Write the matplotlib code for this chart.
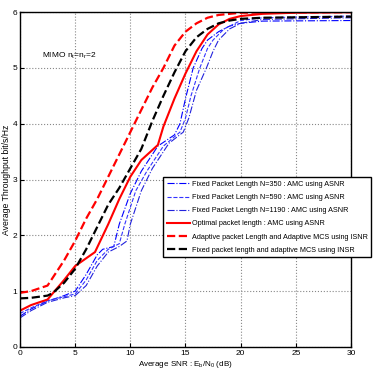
import numpy as np
import matplotlib
matplotlib.use('Agg')
import matplotlib.pyplot as plt

plt.rcParams['font.family'] = ['Liberation Sans', 'DejaVu Sans']
plt.rcParams['mathtext.fontset'] = 'custom'
plt.rcParams['mathtext.rm'] = 'Liberation Sans'
plt.rcParams['mathtext.it'] = 'Liberation Sans'

# 数据
x_opt = [0, 1, 2.5, 4, 5, 6.8, 8, 9, 10, 11, 12.5, 13, 14, 15, 16, 17, 18, 19, 20, 22, 25, 30]
y_opt = [0.65, 0.75, 0.85, 1.2, 1.45, 1.7, 2.2, 2.65, 3.05, 3.35, 3.62, 3.95, 4.45, 4.9, 5.3, 5.6, 5.78, 5.88, 5.93, 5.97, 5.99, 6.0]

x_isnr = [0, 1, 2.5, 4, 5, 6, 7, 8, 9, 10, 11, 12, 13, 14, 15, 16, 17, 18, 20, 30]
y_isnr = [0.97, 1.0, 1.1, 1.55, 1.9, 2.3, 2.65, 3.05, 3.45, 3.85, 4.25, 4.65, 5.0, 5.4, 5.65, 5.8, 5.9, 5.95, 5.99, 6.0]

x_insr = [0, 1, 2.5, 3, 4, 5, 6, 7, 8, 9, 10, 11, 12, 13, 14, 15, 16, 17, 18, 19, 20, 22, 30]
y_insr = [0.87, 0.88, 0.92, 0.97, 1.15, 1.4, 1.75, 2.15, 2.55, 2.85, 3.2, 3.55, 4.05, 4.5, 4.92, 5.3, 5.55, 5.7, 5.8, 5.85, 5.88, 5.9, 5.92]

x_350 = [0, 1, 2.5, 4, 5, 6, 7, 7.5, 8.5, 9, 10, 11, 12, 12.5, 14, 14.5, 15, 15.7, 16.5, 17, 18, 19, 20, 22, 30]
y_350 = [0.55, 0.68, 0.82, 0.92, 1.0, 1.3, 1.65, 1.75, 1.8, 2.2, 2.75, 3.15, 3.45, 3.6, 3.8, 4.0, 4.45, 5.0, 5.35, 5.5, 5.65, 5.75, 5.8, 5.84, 5.85]

x_590 = [0, 1, 2.5, 4, 5, 6, 7, 8, 9, 9.5, 10.5, 11.5, 12.5, 13, 14.5, 15, 15.5, 16.3, 17, 17.5, 18.5, 20, 22, 30]
y_590 = [0.6, 0.7, 0.83, 0.9, 0.95, 1.2, 1.55, 1.75, 1.85, 2.2, 2.8, 3.15, 3.45, 3.6, 3.85, 4.1, 4.5, 5.0, 5.35, 5.5, 5.7, 5.85, 5.9, 5.93]

x_1190 = [0, 1, 2.5, 4, 5, 6, 7, 8, 9, 9.7, 10, 11, 12, 13, 13.5, 14.8, 15.3, 16, 16.9, 17.5, 18, 19, 20, 22, 30]
y_1190 = [0.52, 0.65, 0.8, 0.88, 0.92, 1.1, 1.45, 1.7, 1.8, 1.9, 2.2, 2.8, 3.2, 3.5, 3.65, 3.85, 4.1, 4.6, 5.0, 5.3, 5.5, 5.7, 5.8, 5.87, 5.9]

fig = plt.figure(figsize=(3.84, 3.80), dpi=100)
ax = fig.add_axes([0.052, 0.087, 0.862, 0.881])

ax.plot(x_350, y_350, color='#0000ff', ls='-.', lw=0.8, label='Fixed Packet Length N=350 : AMC using ASNR')
ax.plot(x_590, y_590, color='#3333ff', ls='--', lw=0.8, label='Fixed Packet Length N=590 : AMC using ASNR')
ax.plot(x_1190, y_1190, color='#2222dd', ls='-.', lw=0.8, label='Fixed Packet Length N=1190 : AMC using ASNR')
ax.plot(x_opt, y_opt, color='#ff0000', ls='-', lw=1.5, label='Optimal packet length : AMC using ASNR')
ax.plot(x_isnr, y_isnr, color='#ff0000', ls='--', lw=1.6, label='Adaptive packet Length and Adaptive MCS using ISNR')
ax.plot(x_insr, y_insr, color='black', ls='--', lw=1.6, label='Fixed packet length and adaptive MCS using INSR')

ax.set_xlim(0, 30)
ax.set_ylim(0, 6)
ax.set_xticks(np.arange(0, 31, 5))
ax.set_yticks(np.arange(0, 7, 1))
ax.grid(True, ls=':', color='#888888', lw=0.8)
ax.tick_params(direction='in', labelsize=6, length=3, pad=2)
for s in ax.spines.values():
    s.set_linewidth(1.0)

ax.set_xlabel('Average SNR : E$_b$/N$_0$ (dB)', fontsize=5.8, labelpad=2)
ax.set_ylabel('Average Throughput bit/s/Hz', fontsize=6.2, labelpad=1)
ax.text(2.0, 5.18, 'MIMO n$_t$=n$_r$=2', fontsize=6)

leg = ax.legend(loc='upper left', bbox_to_anchor=(0.432, 0.507), fontsize=5.2,
                frameon=True, fancybox=False, edgecolor='black', framealpha=1,
                handlelength=3.2, handletextpad=0.3, labelspacing=0.85,
                borderpad=0.5, borderaxespad=0)
leg.get_frame().set_linewidth(1.0)

fig.savefig('out.png', dpi=100)
